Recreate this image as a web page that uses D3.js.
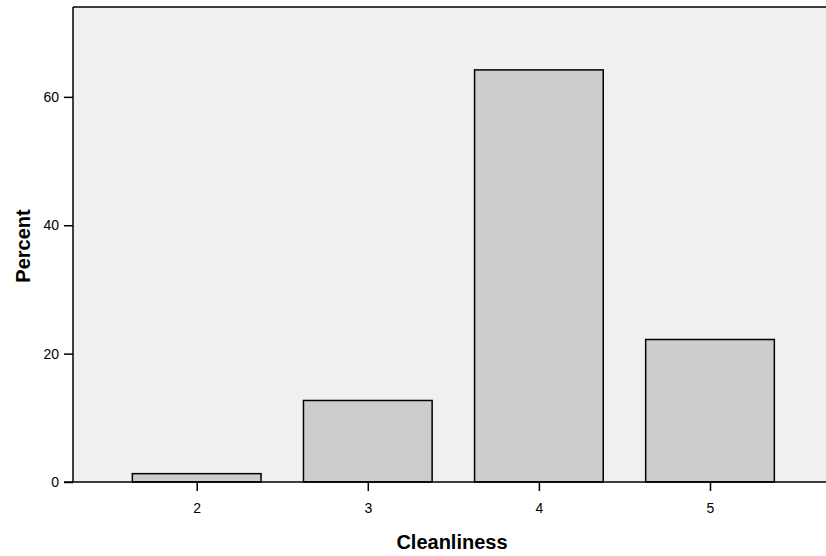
<!DOCTYPE html>
<html>
<head>
<meta charset="utf-8">
<script src="https://cdn.jsdelivr.net/npm/d3@7"></script>
<style>
  html, body { margin: 0; padding: 0; background: #ffffff; }
  svg { display: block; font-family: "Liberation Sans", Arial, sans-serif; }
</style>
</head>
<body>
<svg id="chart" width="826" height="556"></svg>
<script>
// Cleanliness ratings and the percent of responses for each
const categories = ["2", "3", "4", "5"];
const percents = [1.3, 12.7, 64.2, 22.2];
const yTicks = [0, 20, 40, 60];

const svg = d3.select("#chart");
const plot = { left: 73, top: 7, right: 826, bottom: 482 };

const y = d3.scaleLinear().domain([0, 74]).range([plot.bottom, plot.top]);
const x = d3.scalePoint().domain(categories).range([196.7, 710]);
const barW = x.step() * 0.752;

// plot background
svg.append("rect")
  .attr("x", plot.left).attr("y", plot.top)
  .attr("width", plot.right - plot.left).attr("height", plot.bottom - plot.top)
  .attr("fill", "#f0f0f0");

// bars
svg.append("g").selectAll("rect")
  .data(categories)
  .join("rect")
  .attr("x", (d) => x(d) - barW / 2)
  .attr("y", (d, i) => y(percents[i]))
  .attr("width", barW)
  .attr("height", (d, i) => y(0) - y(percents[i]))
  .attr("fill", "#cccccc")
  .attr("stroke", "#000")
  .attr("stroke-width", 1.5);

// frame: top edge
svg.append("line")
  .attr("x1", plot.left).attr("x2", plot.right)
  .attr("y1", plot.top).attr("y2", plot.top)
  .attr("stroke", "#000").attr("stroke-width", 1.5);

// y axis
const yAxis = svg.append("g")
  .attr("transform", `translate(${plot.left},0)`)
  .call(d3.axisLeft(y).tickValues(yTicks).tickSize(9).tickPadding(5).tickSizeOuter(0));
yAxis.select(".domain").remove();
yAxis.append("line")
  .attr("y1", plot.top).attr("y2", plot.bottom)
  .attr("stroke", "#000").attr("stroke-width", 1.5);
yAxis.selectAll(".tick line").attr("stroke-width", 1.5);
yAxis.selectAll(".tick text").attr("font-size", 14).attr("fill", "#000");

// x axis
const xAxis = svg.append("g")
  .attr("transform", `translate(0,${plot.bottom})`)
  .call(d3.axisBottom(x).tickSize(9).tickPadding(12));
xAxis.select(".domain").remove();
xAxis.append("line")
  .attr("x1", plot.left - 9).attr("x2", plot.right)
  .attr("stroke", "#000").attr("stroke-width", 1.5);
xAxis.selectAll(".tick line").attr("stroke-width", 1.5);
xAxis.selectAll(".tick text").attr("font-size", 14).attr("fill", "#000");

// axis titles
svg.append("text")
  .attr("x", 452).attr("y", 548.5)
  .attr("text-anchor", "middle")
  .attr("font-size", 20).attr("font-weight", "bold")
  .text("Cleanliness");

svg.append("text")
  .attr("transform", `translate(30,246) rotate(-90)`)
  .attr("text-anchor", "middle")
  .attr("font-size", 20).attr("font-weight", "bold")
  .text("Percent");
</script>
</body>
</html>
